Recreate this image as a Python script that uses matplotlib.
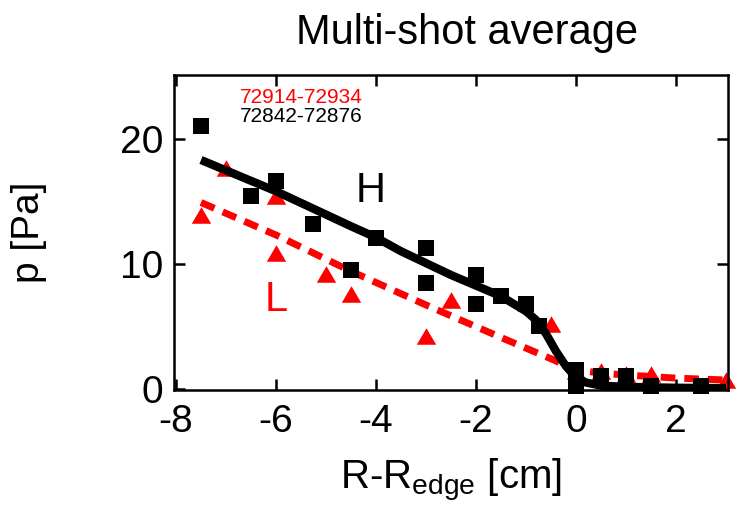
import matplotlib
matplotlib.use("Agg")
import matplotlib.pyplot as plt

plt.rcParams['font.family'] = ['Liberation Sans', 'DejaVu Sans']
plt.rcParams['axes.unicode_minus'] = False

# H-mode shots 72842-72876 (black squares)
h_r = [-7.5, -6.5, -6.0, -5.25, -4.5, -4.0, -3.0, -3.0, -2.0, -2.0, -1.5, -1.0, -0.75,
       0.0, 0.0, 0.5, 1.0, 1.5, 2.5]
h_p = [21.0, 15.4, 16.6, 13.2, 9.5, 12.1, 11.3, 8.5, 9.1, 6.8, 7.4, 6.8, 5.0,
       1.5, 0.2, 1.0, 1.0, 0.2, 0.25]

# L-mode shots 72914-72934 (red triangles)
l_r = [-7.5, -7.0, -6.0, -6.0, -5.0, -4.5, -3.0, -2.5, -0.5, 0.0, 0.5, 1.0, 1.5, 3.0]
l_p = [13.9, 17.7, 15.4, 10.9, 9.2, 7.6, 4.2, 7.1, 5.2, 1.4, 1.4, 1.2, 1.2, 0.7]

# fitted profiles
h_fit_r = [-7.5, -6.0, -4.5, -4.0, -3.5, -2.5, -1.5, -1.0, -0.8, -0.6, -0.4, -0.2, 0.0,
           0.2, 0.5, 1.0, 2.0, 3.0]
h_fit_p = [18.3, 15.8, 13.0, 12.1, 11.0, 9.1, 7.4, 6.2, 5.5, 4.4, 3.0, 1.8, 0.9,
           0.5, 0.25, 0.15, 0.08, 0.05]
l_fit_r = [-7.5, -6.0, -4.5, -3.0, -1.5, -0.5, 0.0, 0.5, 1.0, 2.0, 3.0]
l_fit_p = [14.9, 12.3, 9.4, 6.7, 4.1, 2.4, 1.5, 1.25, 1.1, 0.85, 0.7]

x_ticks = [-8, -6, -4, -2, 0, 2]
y_ticks = [0, 10, 20]

fig = plt.figure(figsize=(7.4, 5.08), dpi=100)
ax = fig.add_axes([174 / 740, 1 - 390 / 508, 554 / 740, 315 / 508])

tri = [(-1, -0.85), (1, -0.85), (0, 0.85)]
ax.plot(l_fit_r, l_fit_p, color='red', lw=5, dashes=(2.1, 1.3), zorder=1)
ax.plot(l_r, l_p, linestyle='none', marker=tri, ms=14, color='red', mew=0,
        zorder=2, clip_on=False)
ax.plot(h_r, h_p, linestyle='none', marker='s', ms=12, color='black', mew=0,
        zorder=3, clip_on=False)
ax.plot(h_fit_r, h_fit_p, color='black', lw=6, zorder=4,
        solid_capstyle='butt', solid_joinstyle='round')

ax.set_xlim(-8.04, 3.04)
ax.set_ylim(-0.1, 25.1)
ax.set_xticks(x_ticks)
ax.set_yticks(y_ticks)
ax.tick_params(direction='in', length=8, width=1.8, labelsize=28,
               top=True, right=True, pad=8)
ax.tick_params(axis='x', pad=10)
for s in ax.spines.values():
    s.set_linewidth(1.8)

ax.set_xlabel(r'R-R$_{\mathregular{edge}}$ [cm]', fontsize=29, labelpad=12)
ax.set_ylabel('p [Pa]', fontsize=28, labelpad=52)
fig.text(467 / 740, 1 - 33 / 508, 'Multi-shot average', fontsize=30,
         ha='center', va='center')

ax.text(0.119, 0.93, '72914-72934', color='red', fontsize=15,
        transform=ax.transAxes, va='center')
ax.text(0.119, 0.867, '72842-72876', color='black', fontsize=15,
        transform=ax.transAxes, va='center')
ax.text(-4.1, 15.8, 'H', fontsize=30, color='black', ha='center', va='center')
ax.text(-6.0, 7.1, 'L', fontsize=30, color='red', ha='center', va='center')

fig.savefig('out.png', dpi=100)
